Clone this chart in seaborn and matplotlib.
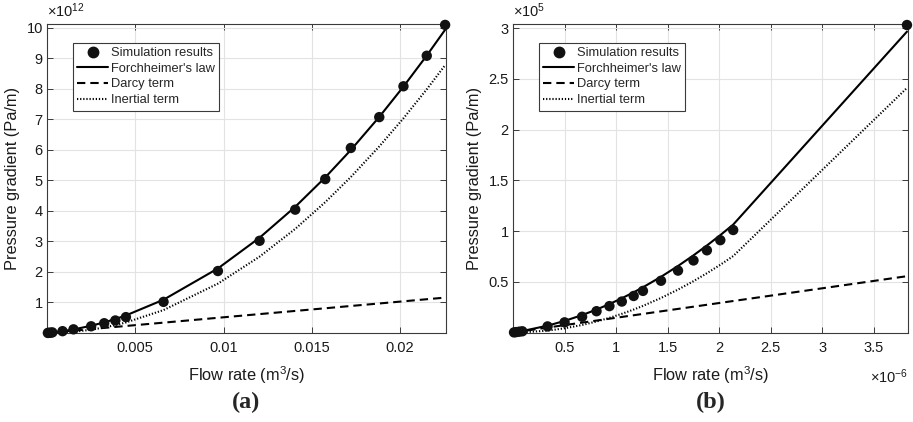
import numpy as np
import pandas as pd
import matplotlib
matplotlib.use("Agg")
import matplotlib.pyplot as plt
from matplotlib.ticker import FixedLocator, FuncFormatter
from matplotlib.lines import Line2D
import seaborn as sns

# ---------------- data (panel a): flow rate in m^3/s, gradient in 1e12 Pa/m
a_flow = [0.00005, 0.0001, 0.0002, 0.0003, 0.00088, 0.0015, 0.0025, 0.00324,
          0.00387, 0.00447, 0.0066, 0.00968, 0.01204, 0.01406, 0.01576,
          0.01721, 0.01882, 0.02019, 0.02151, 0.02255]
a_sim = [0.002, 0.005, 0.01, 0.02, 0.06, 0.12, 0.22, 0.32, 0.41, 0.52, 1.02,
         2.03, 3.02, 4.04, 5.04, 6.06, 7.07, 8.08, 9.08, 10.09]
a_forch = [0.0026, 0.0053, 0.0110, 0.0170, 0.058, 0.116, 0.237, 0.348, 0.457,
           0.575, 1.090, 2.114, 3.120, 4.133, 5.095, 5.994, 7.077, 8.070,
           9.087, 9.931]
a_darcy = [0.0026, 0.0051, 0.0103, 0.0154, 0.045, 0.077, 0.129, 0.167, 0.199,
           0.230, 0.339, 0.498, 0.619, 0.723, 0.810, 0.885, 0.967, 1.038,
           1.106, 1.159]
a_inert = [0.0000, 0.0002, 0.0007, 0.0016, 0.0134, 0.0388, 0.1078, 0.1811,
           0.2584, 0.3447, 0.7514, 1.6164, 2.5006, 3.4101, 4.2846, 5.1093,
           6.1099, 7.0317, 7.9813, 8.7718]

# ---------------- data (panel b): flow rate in 1e-6 m^3/s, gradient in 1e5 Pa/m
b_flow = [0.01, 0.03, 0.06, 0.09, 0.335, 0.50, 0.67, 0.81, 0.935, 1.055, 1.17,
          1.26, 1.435, 1.60, 1.75, 1.88, 2.01, 2.135, 3.82]
b_sim = [0.001, 0.004, 0.008, 0.012, 0.06, 0.10, 0.155, 0.21, 0.26, 0.305,
         0.36, 0.41, 0.51, 0.61, 0.71, 0.81, 0.91, 1.01, 3.03]
b_forch = [0.0015, 0.0045, 0.0093, 0.0144, 0.0672, 0.1140, 0.1716, 0.2261,
           0.2803, 0.3372, 0.3961, 0.4454, 0.5487, 0.6554, 0.7602, 0.8571,
           0.9595, 1.0632, 2.965]
b_darcy = [0.0015, 0.0044, 0.0087, 0.0131, 0.0487, 0.0727, 0.0974, 0.1177,
           0.1359, 0.1533, 0.1700, 0.1831, 0.2085, 0.2325, 0.2543, 0.2732,
           0.2921, 0.3102, 0.555]
b_inert = [0.0000, 0.0001, 0.0006, 0.0013, 0.0185, 0.0413, 0.0742, 0.1084,
           0.1444, 0.1839, 0.2261, 0.2623, 0.3402, 0.4229, 0.5059, 0.5839,
           0.6674, 0.7530, 2.41]

a_xticks = [0.005, 0.01, 0.015, 0.02]
a_yticks = [1, 2, 3, 4, 5, 6, 7, 8, 9, 10]
b_xticks = [0.5, 1, 1.5, 2, 2.5, 3, 3.5]
b_yticks = [0.5, 1, 1.5, 2, 2.5, 3]

legend_labels = ["Simulation results", "Forchheimer's law", "Darcy term", "Inertial term"]

sns.set_theme(style="whitegrid")
plt.rcParams["font.family"] = ["Liberation Sans", "DejaVu Sans"]
plt.rcParams["mathtext.fontset"] = "custom"
plt.rcParams["mathtext.rm"] = "Liberation Sans"
plt.rcParams["mathtext.it"] = "Liberation Sans:italic"
plt.rcParams["mathtext.bf"] = "Liberation Sans:bold"

fig = plt.figure(figsize=(9.13, 4.22), dpi=100)
fig.patch.set_facecolor("white")
ax1 = fig.add_axes([47/913, 1-333/422, 399/913, 309/422])
ax2 = fig.add_axes([513/913, 1-332.5/422, 395/913, 308.5/422])

LW = 1.5
dash_style = (0, (4.0, 2.4))
dot_style = (0, (0.6, 0.9))


def panel(ax, flow, sim, forch, darcy, inert, xmax, ymax, xticks, yticks):
    df = pd.DataFrame({"flow": flow, "sim": sim, "forch": forch,
                       "darcy": darcy, "inert": inert})
    sns.lineplot(data=df, x="flow", y="darcy", ax=ax, color="black", lw=LW,
                 linestyle=dash_style, estimator=None, sort=False, zorder=2)
    sns.lineplot(data=df, x="flow", y="inert", ax=ax, color="black", lw=LW,
                 linestyle=dot_style, estimator=None, sort=False, zorder=2)
    sns.lineplot(data=df, x="flow", y="forch", ax=ax, color="black", lw=LW,
                 linestyle="-", estimator=None, sort=False, zorder=2)
    sns.scatterplot(data=df, x="flow", y="sim", ax=ax, color="#111111", s=56,
                    edgecolor="none", zorder=3, clip_on=False)
    ax.set_xlim(0, xmax)
    ax.set_ylim(0, ymax)
    ax.xaxis.set_major_locator(FixedLocator(xticks))
    ax.yaxis.set_major_locator(FixedLocator(yticks))
    ax.xaxis.set_major_formatter(FuncFormatter(lambda v, p: f"{v:g}"))
    ax.yaxis.set_major_formatter(FuncFormatter(lambda v, p: f"{v:g}"))
    ax.grid(True, color="#e3e3e3", lw=0.8)
    ax.set_facecolor("white")
    for sp in ax.spines.values():
        sp.set_color("#3a3a3a")
        sp.set_linewidth(0.8)
        sp.set_visible(True)
    ax.tick_params(direction="in", length=4, width=0.7, color="#3a3a3a",
                   top=True, right=True, bottom=True, left=True,
                   labelsize=10.5, labelcolor="#1a1a1a")
    ax.tick_params(axis="x", pad=6)
    ax.tick_params(axis="y", pad=3)
    ax.set_xlabel("Flow rate (m$^3$/s)", fontsize=11.8, color="#1a1a1a")
    ax.set_ylabel("Pressure gradient (Pa/m)", fontsize=11.8, color="#1a1a1a")
    handles = [
        Line2D([], [], color="#111111", marker="o", ls="none", markersize=7.5),
        Line2D([], [], color="black", lw=LW, ls="-"),
        Line2D([], [], color="black", lw=LW, ls=dash_style),
        Line2D([], [], color="black", lw=LW, ls=dot_style),
    ]
    leg = ax.legend(handles, legend_labels, loc="upper left",
                    bbox_to_anchor=(0.065, 0.94), fontsize=9.3, frameon=True,
                    fancybox=False, framealpha=1, edgecolor="#3a3a3a",
                    handlelength=2.4, handletextpad=0.2, labelspacing=0.28,
                    borderpad=0.35, borderaxespad=0)
    leg.get_frame().set_linewidth(0.8)


panel(ax1, a_flow, a_sim, a_forch, a_darcy, a_inert, 0.0226, 10.12,
      a_xticks, a_yticks)
panel(ax2, b_flow, b_sim, b_forch, b_darcy, b_inert, 3.83, 3.04,
      b_xticks, b_yticks)

ax1.yaxis.set_label_coords(-0.068, 0.5)
ax2.yaxis.set_label_coords(-0.078, 0.5)
ax1.xaxis.set_label_coords(0.5, -0.102)
ax2.xaxis.set_label_coords(0.5, -0.102)

ax1.text(0.0, 1.012, "×10$^{12}$", transform=ax1.transAxes, ha="left",
         va="bottom", fontsize=10.5, color="#1a1a1a")
ax2.text(0.0, 1.012, "×10$^{5}$", transform=ax2.transAxes, ha="left",
         va="bottom", fontsize=10.5, color="#1a1a1a")
ax2.text(1.0, -0.112, "×10$^{-6}$", transform=ax2.transAxes, ha="right",
         va="top", fontsize=10.5, color="#1a1a1a")

fig.text(246/913, 1-402/422, "(a)", ha="center", va="center",
         fontfamily="Liberation Serif", fontweight="bold", fontsize=17.5)
fig.text(711/913, 1-402/422, "(b)", ha="center", va="center",
         fontfamily="Liberation Serif", fontweight="bold", fontsize=17.5)

fig.savefig("out.png", dpi=100, facecolor="white")
